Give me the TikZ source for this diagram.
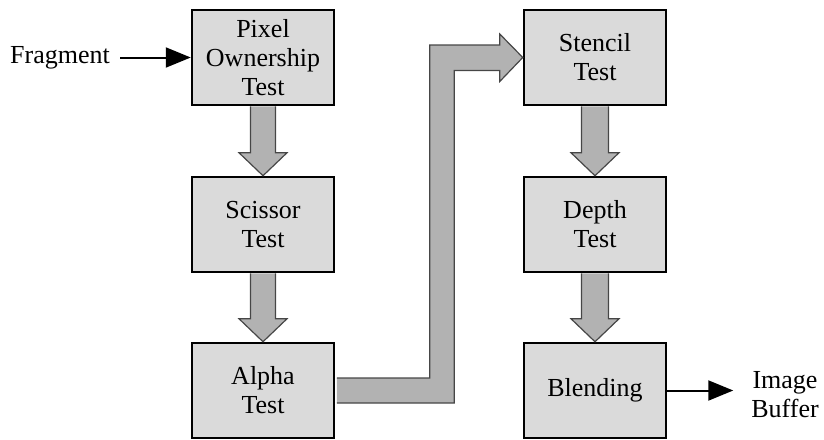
\documentclass[tikz,border=0pt]{standalone}
\usepackage{fontspec}
\setmainfont{Liberation Serif}
\usetikzlibrary{calc,arrows.meta}
\definecolor{boxfill}{RGB}{218,218,218}
\definecolor{arrfill}{RGB}{178,178,178}
\definecolor{arrline}{RGB}{70,70,70}
\tikzset{
  stagebox/.style={draw=black, line width=2.5pt, fill=boxfill, minimum width=142pt, minimum height=95pt, inner sep=0pt, align=center, font=\fontsize{26}{29}\selectfont},
  lbl/.style={align=center, inner sep=0pt, font=\fontsize{26}{29}\selectfont},
  blk/.style={fill=arrfill, draw=arrline, line width=1.2pt, line join=miter},
  thinarrow/.style={line width=2pt, -{Triangle[length=25pt,width=20pt]}}
}
\newcommand\blockdown[3]{%
  \filldraw[blk] ($(#1.south)+(-#3,0)$) -- ($(#2.north)+(-#3,-23)$) -- ($(#2.north)+(-24,-23)$) -- (#2.north) -- ($(#2.north)+(24,-23)$) -- ($(#2.north)+(#3,-23)$) -- ($(#1.south)+(#3,0)$);}
\begin{document}
\begin{tikzpicture}[x=1pt,y=-1pt]
\useasboundingbox (0,0) rectangle (824,439);
\node[stagebox] (pix) at (263,57.5) {Pixel\\Ownership\\Test};
\node[stagebox] (sci) at (263,224.5) {Scissor\\Test};
\node[stagebox] (alp) at (263,390.5) {Alpha\\Test};
\node[stagebox] (ste) at (595,57.5) {Stencil\\Test};
\node[stagebox] (dep) at (595,224.5) {Depth\\Test};
\node[stagebox] (ble) at (595,390.5) {Blending};
\node[lbl] (frag) at (60,57.5) {Fragment};
\node[lbl] (img) at (785,395) {Image\\Buffer};
\coordinate (imgend) at ($(ble.east)+(66,0)$);
\blockdown{pix}{sci}{12.5}
\blockdown{sci}{alp}{12.5}
\blockdown{ste}{dep}{13.5}
\blockdown{dep}{ble}{13.5}
\filldraw[blk] ($(alp.east)+(1.5,-12.5)$) -- ++(93,0) |- ($(ste.west)+(-23,-12.5)$) -- ++(0,-11) -- (ste.west) -- ++(-23,24) -- ++(0,-11) -| ($(alp.east)+(119,12.5)$) -- ($(alp.east)+(1.5,12.5)$);
\draw[thinarrow] ($(frag.east)+(10,0)$) -- (pix.west);
\draw[thinarrow] (ble.east) -- (imgend);
\end{tikzpicture}
\end{document}
